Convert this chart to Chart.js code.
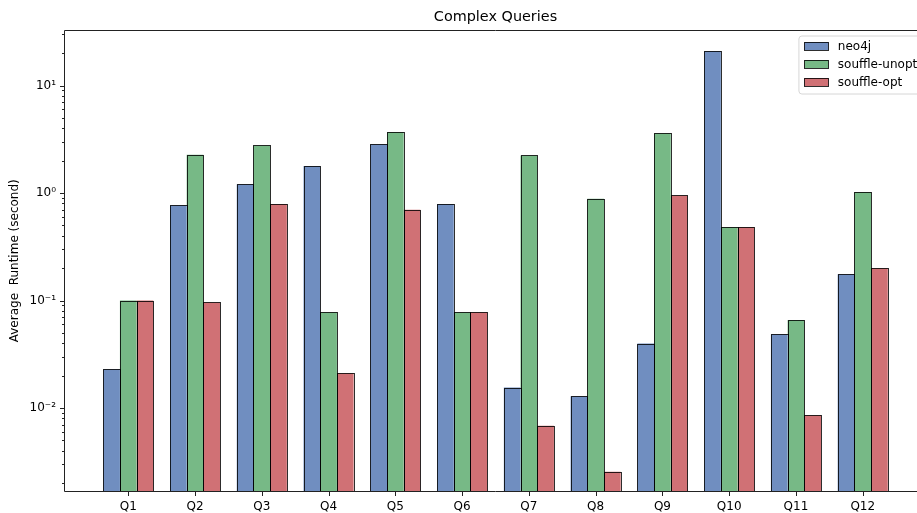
<!DOCTYPE html>
<html><head><meta charset="utf-8">
<script src="https://cdn.jsdelivr.net/npm/chart.js@4/dist/chart.umd.min.js"></script>
<style>html,body{margin:0;padding:0;overflow:hidden;background:#fff;width:917px;height:513px}canvas{display:block}</style>
</head><body>
<canvas id="c" width="940" height="513"></canvas>
<script>
const categories = ['Q1','Q2','Q3','Q4','Q5','Q6','Q7','Q8','Q9','Q10','Q11','Q12'];
const neo4j        = [0.023, 0.77, 1.21, 1.78, 2.84, 0.79, 0.0155, 0.0129, 0.0398, 21.0, 0.0486, 0.176];
const souffleUnopt = [0.1, 2.27, 2.77, 0.078, 3.70, 0.078, 2.24, 0.885, 3.59, 0.482, 0.066, 1.02];
const souffleOpt   = [0.1, 0.096, 0.79, 0.0211, 0.70, 0.078, 0.00686, 0.00256, 0.95, 0.482, 0.00857, 0.200];
const seriesNames  = ['neo4j','souffle-unopt','souffle-opt'];
const yTickValues  = [0.01, 0.1, 1, 10];
const yTickLabels  = ['10\u207B\u00B2','10\u207B\u00B9','10\u2070','10\u00B9'];
const chartTitle   = 'Complex Queries';

const F = "'DejaVu Sans', sans-serif";
const colors = ['#708ec0','#77b986','#d07175'];
const edge = 'rgba(0,0,0,0.82)';
const series = [neo4j, souffleUnopt, souffleOpt];

const barEdges = {
  id:'barEdges',
  afterDatasetsDraw(chart){
    const {ctx, chartArea:a} = chart;
    ctx.save();
    ctx.beginPath();
    ctx.rect(a.left, a.top, a.right-a.left, Math.round(a.bottom)-1-a.top);
    ctx.clip();
    ctx.strokeStyle = edge;
    ctx.lineWidth = 1;
    chart.data.datasets.forEach((ds,k)=>{
      chart.getDatasetMeta(k).data.forEach(el=>{
        const l = Math.round(el.x - el.width/2), r = Math.round(el.x + el.width/2);
        const t = Math.round(el.y), b = Math.round(el.base);
        ctx.strokeRect(l+0.5, t+0.5, r-l, b-t+2);
      });
    });
    ctx.restore();
  }
};

const frameAndTicks = {
  id:'frameAndTicks',
  afterDatasetsDraw(chart){
    const {ctx, chartArea:a, scales:{x,y}} = chart;
    ctx.save();
    ctx.strokeStyle = '#222';
    ctx.lineWidth = 1;
    const L = Math.round(a.left)+0.5, R = Math.round(a.right)-0.5;
    const T = Math.round(a.top)+0.5, B = Math.round(a.bottom)-0.5;
    ctx.beginPath();
    ctx.moveTo(L,T); ctx.lineTo(R,T); ctx.lineTo(R,B); ctx.lineTo(L,B); ctx.closePath();
    ctx.stroke();
    ctx.beginPath();
    categories.forEach((c,i)=>{
      const px = Math.round(x.getPixelForValue(i))+0.5;
      ctx.moveTo(px,B); ctx.lineTo(px,B+4.5);
    });
    yTickValues.forEach(v=>{
      const py = Math.round(y.getPixelForValue(v))+0.5;
      ctx.moveTo(L-4.5,py); ctx.lineTo(L,py);
    });
    ctx.stroke();
    ctx.beginPath();
    for(let k=-4;k<=2;k++){
      for(let m=2;m<=9;m++){
        const v = m*Math.pow(10,k);
        if(v<y.min||v>y.max) continue;
        const py = Math.round(y.getPixelForValue(v))+0.5;
        ctx.moveTo(L-2.5,py); ctx.lineTo(L,py);
      }
    }
    ctx.stroke();
    ctx.fillStyle = '#000';
    ctx.font = "14.4px " + F;
    ctx.textAlign = 'center';
    ctx.textBaseline = 'middle';
    ctx.fillText(chartTitle, (a.left+a.right)/2, 17);
    ctx.restore();
  }
};

const innerLegend = {
  id:'innerLegend',
  afterDraw(chart){
    const {ctx, chartArea:a} = chart;
    ctx.save();
    ctx.font = "12px " + F;
    const tw = Math.max(...seriesNames.map(s=>ctx.measureText(s).width));
    const w = 4.8+24+9.6+tw+4.8, h = 58;
    const right = a.right-6, top = a.top+6, left = right-w;
    ctx.beginPath();
    if(ctx.roundRect) ctx.roundRect(left+0.5, top+0.5, w, h, 3); else ctx.rect(left+0.5,top+0.5,w,h);
    ctx.fillStyle = 'rgba(255,255,255,0.85)';
    ctx.fill();
    ctx.strokeStyle = '#d6d6d6';
    ctx.lineWidth = 1;
    ctx.stroke();
    seriesNames.forEach((name,i)=>{
      const cy = Math.round(top + 10.2 + i*18);
      ctx.fillStyle = colors[i];
      ctx.fillRect(left+6, cy-4, 24, 8);
      ctx.strokeStyle = edge;
      ctx.strokeRect(Math.round(left+6)+0.5, cy-3.5, 24, 8);
      ctx.fillStyle = '#000';
      ctx.textBaseline = 'middle';
      ctx.textAlign = 'left';
      ctx.fillText(name, left+4.8+24+9.6+1, cy+0.5);
    });
    ctx.restore();
  }
};

new Chart(document.getElementById('c'), {
  type:'bar',
  data:{
    datasets: series.map((vals,k)=>({
      label: seriesNames[k],
      data: vals.map((v,i)=>({x:i,y:v})),
      backgroundColor: colors[k],
      borderWidth: 0,
      inflateAmount: 0,
      categoryPercentage: 0.75,
      barPercentage: 1.0
    }))
  },
  options:{
    responsive:false,
    animation:false,
    devicePixelRatio:1,
    layout:{padding:{left:0,right:13,top:29.5,bottom:0}},
    plugins:{
      legend:{display:false},
      tooltip:{enabled:false},
      title:{display:false}
    },
    scales:{
      x:{type:'linear',min:-0.9625,max:11.9625,offset:false,
        grid:{display:false,drawTicks:false,offset:false},border:{display:false},
        afterBuildTicks:s=>{s.ticks = categories.map((c,i)=>({value:i}));},
        ticks:{callback:v=>categories[v],autoSkip:false,maxRotation:0,padding:8,color:'#000',
          font:{family:F,size:12}},
        afterFit:s=>{s.height=21;}
      },
      y:{type:'logarithmic',min:0.001656,max:33.2,
        grid:{display:false,drawTicks:false},border:{display:false},
        afterBuildTicks:s=>{s.ticks = yTickValues.map(v=>({value:v}));},
        ticks:{callback:v=>{const i=yTickValues.indexOf(v);return i>=0?yTickLabels[i]:'';},
          padding:8,color:'#000',font:{family:F,size:12}},
        title:{display:true,text:'Average  Runtime (second)',color:'#000',
          font:{family:F,size:12},padding:{top:8,bottom:0}},
        afterFit:s=>{s.width=64;}
      }
    }
  },
  plugins:[barEdges, frameAndTicks, innerLegend]
});
</script>
</body></html>
